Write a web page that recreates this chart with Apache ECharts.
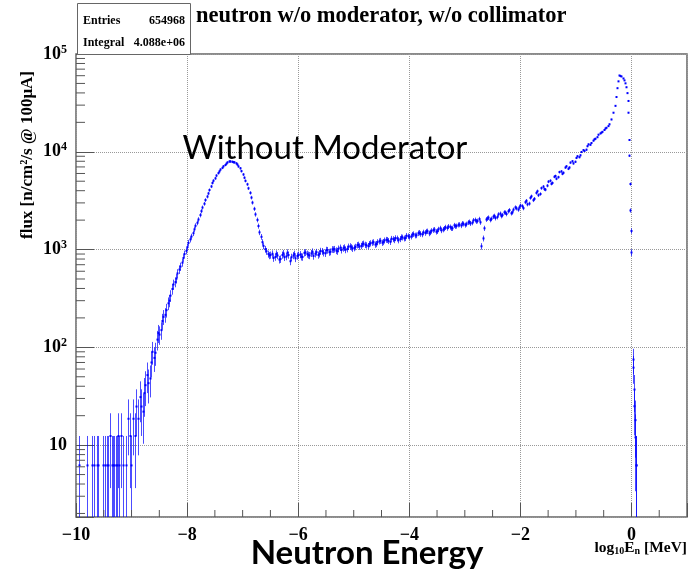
<!DOCTYPE html>
<html><head><meta charset="utf-8">
<script src="https://cdn.jsdelivr.net/npm/echarts@6.0.0/dist/echarts.min.js"></script>
<style>html,body{margin:0;padding:0;background:#fff}#c{width:691px;height:571px}</style>
</head><body><div id="c"></div>
<script>
// ---------- data ----------
const countWeight = 6.2;            // flux carried by one histogram entry
const xMin = -10, xMax = 1, xMajor = 2, xMinorStep = 0.5;
const yMin = 1.84, yMax = 1e5;

// sparse low-energy bins (log10 E, flux)
const lowE    = [-9.95,-9.81,-9.71,-9.68,-9.62,-9.60,-9.51,-9.48,-9.44,-9.42,-9.39,-9.35,-9.33,-9.32,-9.28,-9.26,-9.24,-9.23,-9.19,-9.15,-9.10,-9.06,-9.03,-9.01,-8.97,-8.94,-8.92,-8.88,-8.85,-8.83];
const lowFlux = [6.2,6.2,6.2,6.2,6.2,6.2,6.2,6.2,6.2,6.2,12.4,6.2,6.2,6.2,6.2,6.2,12.4,6.2,12.4,6.2,6.2,18.6,12.4,6.2,18.6,12.4,24.8,18.6,31,24.8];

// main spectrum, bins every 0.05 from -8.80 to -0.40
const mainStart = -8.80, mainStep = 0.05;
const mainFlux = [
  22,41,43,70,78,120,135,186,215,282,
  338,440,505,625,735,900,1060,1270,1470,1750,
  2030,2470,2940,3480,4060,4800,5350,6050,6580,7100,
  7560,7960,7900,7790,7400,6780,5860,5040,4230,3400,
  2610,2010,1500,1190,1010,900,880,
  820,905,790,880,835,930,760,870,815,880,
  845,925,900,870,950,905,880,965,925,990,940,1005,1010,960,1045,1030,995,1070,1055,1040,
  1110,1075,1135,1120,1085,1160,1190,1140,1215,1175,1240,1255,1200,1280,1310,1245,1340,1300,1385,1350,
  1420,1395,1470,1445,1500,1530,1465,1555,1600,1540,1650,1600,1690,1720,1650,1770,1740,1800,1850,1780,
  1890,1850,1990,1940,2050,1080,1650,2080,2010,2170,2100,2290,2200,2400,2310,2530,2400,2700,2560,2820,
  2650,3150,2950,3500,3300,3950,3700,4400,4100,4950,4700,5550,5300,6200,5950,6900,6700,7750,7600,8650,
  8800,9950,10200,11400,11800,13000,13600,14950,15700,16700,17600,19100
];

// interleaved bins, every 0.05 from -8.775 to -0.425
const midStart = -8.775, midStep = 0.05;
const midFlux = [
  34,52,48,90,88,140,150,205,240,300,
  395,465,570,670,820,970,1170,1360,1610,1880,
  2250,2690,3210,3750,4420,5060,5710,6300,6850,7320,
  7780,7960,7830,7610,7080,6340,5430,4650,3800,3020,
  2290,1740,1350,1090,960,870,
  905,840,870,800,915,850,880,835,900,860,
  890,840,935,880,915,860,940,905,960,915,985,950,1000,975,1020,990,1050,1015,1080,1025,
  1065,1120,1090,1150,1105,1140,1175,1125,1190,1230,1195,1260,1225,1290,1250,1300,1280,1330,1310,1370,
  1360,1440,1400,1490,1430,1480,1540,1500,1580,1520,1610,1570,1640,1660,1700,1650,1730,1790,1760,1830,
  1820,1920,1880,2010,1960,1900,1300,2030,2120,2060,2210,2150,2330,2250,2390,2460,2350,2560,2640,2700,
  2780,3050,2900,3380,3200,3800,3600,4250,4150,4500,5050,4800,5650,5500,6300,6100,7100,6900,8000,7900,
  9000,9200,10400,10500,11900,12300,13400,14100,15400,16000,17300,18300
];

// fast-neutron peak (finer bins)
const peakE    = [-0.36,-0.33,-0.30,-0.28,-0.26,-0.24,-0.22,-0.20,-0.18,-0.16,-0.14,-0.12,-0.10,-0.08,-0.07,-0.06,-0.05,-0.04,-0.03,-0.02,-0.01,0.00];
const peakFlux = [21400,25100,29500,36300,44700,52500,60300,59500,58900,56200,53700,50100,45700,39800,33100,25100,13200,9120,4680,2510,1550,933];

// tail above 1 MeV
const tailE    = [0.02,0.03,0.04,0.05,0.06,0.07,0.08,0.09];
const tailFlux = [75,62,37,25,18,12,6.2,6.2];

// ---------- build ----------
const pts = [];
function add(E, F){ for (let i=0;i<F.length;i++){ const f=F[i]; const e=Math.sqrt(f*countWeight); pts.push([E[i], f, Math.max(f-e, yMin), f+e]); } }
add(lowE, lowFlux);
add(mainFlux.map((_,i)=>+(mainStart+i*mainStep).toFixed(3)), mainFlux);
add(midFlux.map((_,i)=>+(midStart+i*midStep).toFixed(3)), midFlux);
add(peakE, peakFlux);
add(tailE, tailFlux);

const minorTicks = [];
for (let v = xMin; v <= xMax + 1e-9; v += xMinorStep) {
  if (Math.abs(v/xMajor - Math.round(v/xMajor)) > 1e-6 && v < xMax - 1e-9) minorTicks.push([v, yMin, 0]);
}
for (let e = 0; e <= 4; e++) for (let k = 2; k <= 9; k++) { const v = k*Math.pow(10,e); if (v > yMin && v < yMax) minorTicks.push([xMin, v, 1]); }

const serif = 'Liberation Serif';
const chart = echarts.init(document.getElementById('c'), null, {renderer:'canvas'});
chart.setOption({
  animation:false,
  backgroundColor:'#fff',
  grid:{left:76, top:54, width:611, height:463, show:true, borderColor:'#666', borderWidth:1.5, backgroundColor:'transparent'},
  xAxis:{type:'value', min:xMin, max:xMax, interval:xMajor,
    axisLine:{show:false, onZero:false},
    axisTick:{show:true, inside:true, length:14, lineStyle:{color:'#555', width:1}},
    splitLine:{show:true, lineStyle:{color:'#999', type:'dotted', width:1}},
    axisLabel:{margin:9, formatter:v => (Math.abs(v-xMax)<1e-9) ? '' : (v<0 ? '\u2212'+Math.abs(v) : String(v)),
      fontFamily:serif, fontWeight:'bold', fontSize:18, color:'#000'}
  },
  yAxis:{type:'log', logBase:10, min:yMin, max:yMax,
    axisLine:{show:false, onZero:false},
    axisTick:{show:true, inside:true, length:18, lineStyle:{color:'#555', width:1}},
    splitLine:{show:true, lineStyle:{color:'#999', type:'dotted', width:1}},
    axisLabel:{margin:9, formatter:function(v){
        const e = Math.round(Math.log10(v));
        if (Math.abs(Math.pow(10,e)-v)/v > 1e-6) return '';
        return e===1 ? '{b|10}' : '{b|10}{s|'+e+'}';
      },
      rich:{b:{fontFamily:serif, fontWeight:'bold', fontSize:18, color:'#000'},
            s:{fontFamily:serif, fontWeight:'bold', fontSize:12, color:'#000', padding:[0,0,9,0]}}
    }
  },
  series:[
    {type:'custom', data:pts, clip:true, z:3,
      renderItem:function(params, api){
        const p = api.coord([api.value(0), api.value(1)]);
        const lo = api.coord([api.value(0), api.value(2)]);
        const hi = api.coord([api.value(0), api.value(3)]);
        const x = Math.round(p[0])+0.5;
        return {type:'group', children:[
          {type:'line', shape:{x1:x, y1:lo[1], x2:x, y2:hi[1]}, style:{stroke:'rgba(0,0,255,0.7)', lineWidth:1}},
          {type:'rect', shape:{x:x-1, y:p[1]-1, width:2, height:2}, style:{fill:'#0000ff'}}
        ]};
      }
    },
    {type:'custom', data:minorTicks, clip:false, z:4, silent:true,
      renderItem:function(params, api){
        const p = api.coord([api.value(0), api.value(1)]);
        const kind = api.value(2);
        const shape = kind===0 ? {x1:p[0], y1:p[1], x2:p[0], y2:p[1]-7} : {x1:p[0], y1:p[1], x2:p[0]+9, y2:p[1]};
        return {type:'line', shape:shape, style:{stroke:'#555', lineWidth:1}};
      }
    }
  ],
  graphic:[
    {type:'rect', left:77, top:3, shape:{width:113, height:51}, style:{fill:'#fff', stroke:'#666', lineWidth:1}, z:10},
    {type:'text', x:83, y:21, z:11, style:{text:'Entries', fontFamily:serif, fontWeight:'bold', fontSize:12, fill:'#000', textVerticalAlign:'middle'}},
    {type:'text', x:185, y:21, z:11, style:{text:'654968', fontFamily:serif, fontWeight:'bold', fontSize:12, fill:'#000', textAlign:'right', textVerticalAlign:'middle'}},
    {type:'text', x:83, y:43, z:11, style:{text:'Integral', fontFamily:serif, fontWeight:'bold', fontSize:12, fill:'#000', textVerticalAlign:'middle'}},
    {type:'text', x:185, y:43, z:11, style:{text:'4.088e+06', fontFamily:serif, fontWeight:'bold', fontSize:12, fill:'#000', textAlign:'right', textVerticalAlign:'middle'}},
    {type:'text', x:196, y:16, z:11, style:{text:'neutron w/o moderator, w/o collimator', fontFamily:serif, fontWeight:'bold', fontSize:22.5, fill:'#000', textVerticalAlign:'middle'}},
    {type:'text', x:28, y:155, rotation:Math.PI/2, z:11, style:{text:'flux [n/cm\u00b2/s @ 100\u03bcA]', fontFamily:serif, fontWeight:'bold', fontSize:17, fill:'#000', textAlign:'center', textVerticalAlign:'middle'}},
    {type:'text', x:687, y:548, z:11, style:{text:'log{sub|10}E{sub|n} [MeV]', fontFamily:serif, fontWeight:'bold', fontSize:15.5, fill:'#000', textAlign:'right', textVerticalAlign:'middle',
      rich:{sub:{fontFamily:serif, fontWeight:'bold', fontSize:10, fill:'#000', padding:[7,0,0,0]}}}},
    {type:'text', x:325, y:148, z:11, style:{text:'Without Moderator', fontFamily:'Lato', fontSize:33, fill:'#000', textAlign:'center', textVerticalAlign:'middle'}},
    {type:'text', x:367, y:553, z:11, style:{text:'Neutron Energy', fontFamily:'Lato', fontWeight:'bold', fontSize:33, fill:'#000', textAlign:'center', textVerticalAlign:'middle'}}
  ]
});
</script></body></html>
